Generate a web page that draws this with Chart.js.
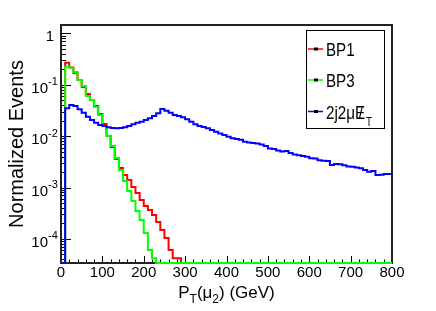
<!DOCTYPE html>
<html>
<head>
<meta charset="utf-8">
<script src="https://cdn.jsdelivr.net/npm/chart.js@4/dist/chart.umd.min.js"></script>
<style>
  html, body { margin: 0; padding: 0; background: #fff; }
  #wrap { width: 436px; height: 311px; }
</style>
</head>
<body>
<div id="wrap"><canvas id="myChart" width="436" height="311"></canvas></div>
<script>
// pT of the second muon, 10 GeV bins (low edges)
const binLow = [
  0, 10, 20, 30, 40, 50, 60, 70, 80, 90, 100, 110, 120, 130, 140, 150, 160, 170, 180, 190,
  200, 210, 220, 230, 240, 250, 260, 270, 280, 290, 300, 310, 320, 330, 340, 350, 360, 370, 380, 390,
  400, 410, 420, 430, 440, 450, 460, 470, 480, 490, 500, 510, 520, 530, 540, 550, 560, 570, 580, 590,
  600, 610, 620, 630, 640, 650, 660, 670, 680, 690, 700, 710, 720, 730, 740, 750, 760, 770, 780, 790
];

const bp1 = [
  0, 0.268, 0.216, 0.169, 0.123, 0.0901, 0.0659, 0.0504, 0.0385, 0.0269,
  0.0172, 0.0100, 0.00614, 0.00358, 0.00239, 0.00175, 0.00140, 0.00102, 0.000782, 0.000571,
  0.000437, 0.000365, 0.000292, 0.000213, 0.000149, 0.000104, 0.0000608, 0.0000420, 0.0000420, 0,
  0, 0, 0, 0, 0, 0, 0, 0, 0, 0,
  0, 0, 0, 0, 0, 0, 0, 0, 0, 0,
  0, 0, 0, 0, 0, 0, 0, 0, 0, 0,
  0, 0, 0, 0, 0, 0, 0, 0, 0, 0,
  0, 0, 0, 0, 0, 0, 0, 0, 0, 0
];

const bp3 = [
  0, 0.224, 0.214, 0.177, 0.123, 0.0942, 0.0603, 0.0504, 0.0368, 0.0257,
  0.0157, 0.0100, 0.00642, 0.00375, 0.00219, 0.00134, 0.000855, 0.000546, 0.000349, 0.000233,
  0.000130, 0.0000608, 0.0000420, 0, 0, 0, 0, 0, 0, 0,
  0, 0, 0, 0, 0, 0, 0, 0, 0, 0,
  0, 0, 0, 0, 0, 0, 0, 0, 0, 0,
  0, 0, 0, 0, 0, 0, 0, 0, 0, 0,
  0, 0, 0, 0, 0, 0, 0, 0, 0, 0,
  0, 0, 0, 0, 0, 0, 0, 0, 0, 0
];

const bkg = [
  0, 0.0347, 0.0403, 0.0385, 0.0332, 0.0285, 0.0238, 0.0206, 0.0182, 0.0164,
  0.0157, 0.0148, 0.0144, 0.0142, 0.0144, 0.0148, 0.0157, 0.0170, 0.0182, 0.0191,
  0.0206, 0.0222, 0.0246, 0.0278, 0.0337, 0.0312, 0.0285, 0.0257, 0.0246, 0.0232,
  0.0212, 0.0191, 0.0170, 0.0157, 0.0150, 0.0142, 0.0131, 0.0122, 0.0113, 0.0105,
  0.00973, 0.00906, 0.00880, 0.00845, 0.00778, 0.00750, 0.00734, 0.00718, 0.00687, 0.00642,
  0.00574, 0.00560, 0.00525, 0.00500, 0.00513, 0.00470, 0.00439, 0.00425, 0.00410, 0.00395,
  0.00372, 0.00365, 0.00340, 0.00333, 0.00328, 0.00274, 0.00286, 0.00282, 0.00270, 0.00256,
  0.00254, 0.00245, 0.00236, 0.00219, 0.00203, 0.00210, 0.00175, 0.00177, 0.00183, 0.00183
];

const seriesColors = ["#ff0000", "#00ff00", "#0000ff"];
// legend text pieces: [text, kind]  kind: "n" normal, "s" subscript, "/" slashed
const legendLabels = [
  [["BP1", "n"]],
  [["BP3", "n"]],
  [["2j2μ", "n"], ["E", "/"], ["T", "s"]]
];

const yTickExp = [0, -1, -2, -3, -4];
const X_MIN = 0, X_MAX = 800;
const Y_MIN = 3.4e-5, Y_MAX = 1.45;
const FONT = "'Liberation Sans', Arial, Helvetica, sans-serif";

// zero bins sit on the bottom of the log axis, like ROOT draws them
function histPoints(values) {
  const pts = binLow.map((x, i) => ({ x: x, y: values[i] > 0 ? values[i] : Y_MIN }));
  pts.push({ x: X_MAX, y: pts[pts.length - 1].y });
  return pts;
}

const frameAndTicks = {
  id: "frameAndTicks",
  beforeDatasetsDraw(chart) {
    const { ctx, chartArea: a, scales: { x, y } } = chart;
    ctx.save();
    ctx.strokeStyle = "#000";
    ctx.lineWidth = 1;
    ctx.beginPath();
    for (let v = X_MIN; v <= X_MAX; v += 20) {
      const px = Math.round(x.getPixelForValue(v)) + 0.5;
      const len = v % 100 === 0 ? 7 : 3.5;
      ctx.moveTo(px, a.bottom);
      ctx.lineTo(px, a.bottom - len);
    }
    for (let e = -5; e <= 0; e++) {
      for (let m = 1; m <= 9; m++) {
        const v = m * Math.pow(10, e);
        if (v < Y_MIN || v > Y_MAX) continue;
        const py = Math.round(y.getPixelForValue(v)) + 0.5;
        ctx.moveTo(a.left, py);
        ctx.lineTo(a.left + (m === 1 ? 10 : 5), py);
      }
    }
    ctx.stroke();

    ctx.lineWidth = 2;
    ctx.strokeStyle = "#222";
    ctx.strokeRect(a.left, a.top, a.right - a.left, a.bottom - a.top);

    // y tick labels with superscript exponents
    ctx.fillStyle = "#000";
    ctx.textBaseline = "alphabetic";
    yTickExp.forEach(e => {
      const py = y.getPixelForValue(Math.pow(10, e));
      if (e === 0) {
        ctx.font = "15px " + FONT;
        ctx.textAlign = "right";
        ctx.fillText("1", 54, py + 8);
      } else {
        ctx.font = "15px " + FONT;
        ctx.textAlign = "right";
        ctx.fillText("10", 48, py + 8);
        ctx.font = "11px " + FONT;
        ctx.textAlign = "left";
        ctx.fillText(String(e), 48, py + 0.5);
      }
    });
    ctx.restore();
  },
  afterDraw(chart) {
    const { ctx, chartArea: a } = chart;
    ctx.save();
    ctx.fillStyle = "#000";

    // y title
    ctx.save();
    ctx.translate(23, 144);
    ctx.rotate(-Math.PI / 2);
    ctx.font = "20px " + FONT;
    ctx.textAlign = "center";
    ctx.textBaseline = "alphabetic";
    ctx.fillText("Normalized Events", 0, 0);
    ctx.restore();

    // x title: P_T(μ_2) (GeV)
    const parts = [["P", 0], ["T", 1], ["(μ", 0], ["2", 1], [") (GeV)", 0]];
    const big = "17px " + FONT, small = "12px " + FONT;
    let w = 0;
    parts.forEach(p => { ctx.font = p[1] ? small : big; w += ctx.measureText(p[0]).width; });
    let cx = (a.left + a.right) / 2 - w / 2;
    ctx.textAlign = "left";
    parts.forEach(p => {
      ctx.font = p[1] ? small : big;
      ctx.fillText(p[0], cx, p[1] ? 303 : 298);
      cx += ctx.measureText(p[0]).width;
    });

    // legend box
    ctx.fillStyle = "#fff";
    ctx.fillRect(306.5, 30.5, 78, 98);
    ctx.strokeStyle = "#000";
    ctx.lineWidth = 1;
    ctx.strokeRect(306.5, 30.5, 78, 98);
    const rowY = [49, 80, 111.5];
    legendLabels.forEach((lab, i) => {
      ctx.strokeStyle = seriesColors[i];
      ctx.lineWidth = 1.5;
      ctx.beginPath();
      ctx.moveTo(308, rowY[i]);
      ctx.lineTo(323, rowY[i]);
      ctx.stroke();
      ctx.fillStyle = "#000";
      ctx.fillRect(314, rowY[i] - 1.5, 4, 3);

      ctx.save();
      ctx.translate(326, rowY[i] + 7);
      ctx.scale(0.82, 1);
      let tx = 0;
      lab.forEach(seg => {
        if (seg[1] === "s") {
          ctx.font = "12px " + FONT;
          ctx.fillText(seg[0], tx + 1, 7);
          tx += ctx.measureText(seg[0]).width + 1;
        } else {
          ctx.font = "18.5px " + FONT;
          ctx.fillText(seg[0], tx, 0);
          const sw = ctx.measureText(seg[0]).width;
          if (seg[1] === "/") {
            ctx.textAlign = "center";
            ctx.fillText("/", tx + sw / 2 + 1, 0);
            ctx.textAlign = "left";
          }
          tx += sw;
        }
      });
      ctx.restore();
    });
    ctx.restore();
  }
};

new Chart(document.getElementById("myChart"), {
  type: "line",
  data: {
    datasets: [
      { label: "BP1", data: histPoints(bp1), borderColor: seriesColors[0], order: 2 },
      { label: "BP3", data: histPoints(bp3), borderColor: seriesColors[1], order: 1 },
      { label: "2j2μET", data: histPoints(bkg), borderColor: seriesColors[2], order: 0 }
    ]
  },
  options: {
    responsive: false,
    animation: false,
    clip: false,
    datasets: {
      line: {
        stepped: "before",
        borderWidth: 2,
        pointRadius: 0,
        borderJoinStyle: "miter",
        fill: false
      }
    },
    layout: { padding: { top: 25, right: 44, left: 0, bottom: 0 } },
    plugins: {
      legend: { display: false },
      tooltip: { enabled: false }
    },
    scales: {
      x: {
        type: "linear",
        min: X_MIN,
        max: X_MAX,
        grid: { display: false, drawTicks: false },
        border: { display: false },
        ticks: {
          stepSize: 100,
          autoSkip: false,
          maxRotation: 0,
          padding: 1,
          color: "#000",
          font: { family: FONT, size: 15 }
        },
        afterFit: s => { s.height = 48; }
      },
      y: {
        type: "logarithmic",
        min: Y_MIN,
        max: Y_MAX,
        grid: { display: false, drawTicks: false },
        border: { display: false },
        ticks: { display: false },
        afterFit: s => { s.width = 61; }
      }
    }
  },
  plugins: [frameAndTicks]
});
</script>
</body>
</html>
